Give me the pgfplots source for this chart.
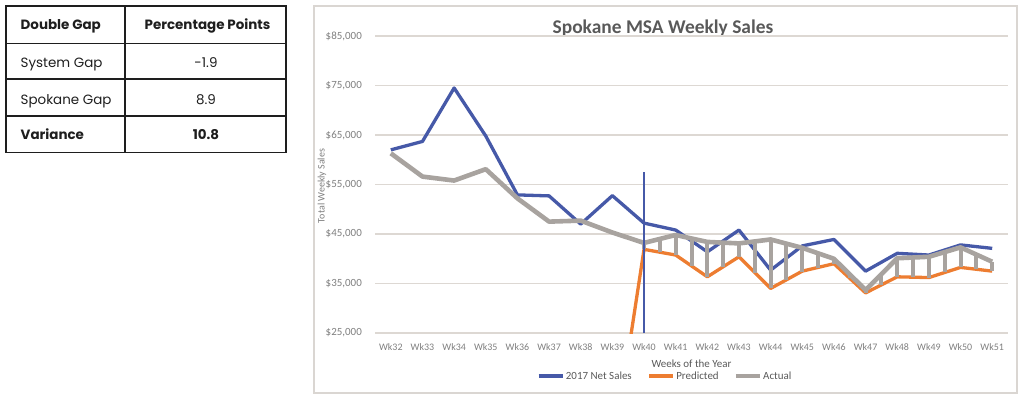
\documentclass[border=0pt]{standalone}
\usepackage{pgfplots}
\pgfplotsset{compat=1.18}
\usepackage{pgfplotstable}
\usepackage{fontspec}
\setmainfont{Carlito}
\newfontfamily\tabfont{Poppins}
\definecolor{netblue}{HTML}{4659A8}
\definecolor{predorange}{HTML}{ED7D31}
\definecolor{actgrey}{HTML}{A8A39F}
\definecolor{gridc}{HTML}{DDD8D3}
\definecolor{framec}{HTML}{DAD6D2}
\definecolor{ticktext}{HTML}{7F7F7F}
\definecolor{titletext}{HTML}{595959}
\definecolor{tabtext}{HTML}{1E1E1E}

\pgfplotstableread{
x y
32 62000
33 63700
34 74500
35 64800
36 52900
37 52700
38 47000
39 52750
40 47200
41 45800
42 41400
43 45800
44 37700
45 42600
46 43900
47 37500
48 41100
49 40750
50 42800
51 42100
}\netsales

\pgfplotstableread{
x y
39 0
40 41900
41 40750
42 36350
43 40400
44 34000
45 37500
46 39000
47 33100
48 36350
49 36200
50 38250
51 37500
}\predicted

\pgfplotstableread{
x y
32 61300
33 56600
34 55800
35 58100
36 52200
37 47500
38 47700
39 45300
40 43200
41 44800
42 43400
43 43100
44 43900
45 42200
46 40000
47 33700
48 40100
49 40400
50 42300
51 39400
}\actual

% grey hatch bars between Actual (top) and Predicted (bottom)
\pgfplotstableread{
x y
40 43200
40 41900
40 nan
40.5 44000
40.5 41325
40.5 nan
41 44800
41 40750
41 nan
41.5 44100
41.5 38550
41.5 nan
42 43400
42 36350
42 nan
42.5 43250
42.5 38375
42.5 nan
43 43100
43 40400
43 nan
43.5 43500
43.5 37200
43.5 nan
44 43900
44 34000
44 nan
44.5 43050
44.5 35700
44.5 nan
45 42200
45 37400
45 nan
45.5 41100
45.5 38200
45.5 nan
46 40000
46 39000
46 nan
46.5 36850
46.5 36050
46.5 nan
47 33700
47 33100
47 nan
47.5 36900
47.5 34725
47.5 nan
48 40100
48 36350
48 nan
48.5 40250
48.5 36275
48.5 nan
49 40400
49 36200
49 nan
49.5 41350
49.5 37225
49.5 nan
50 42300
50 38250
50 nan
50.5 40850
50.5 37875
50.5 nan
51 39400
51 37500
}\bars

\begin{document}
\begin{tikzpicture}
\useasboundingbox (0bp,0bp) rectangle (1028bp,-402bp);
\begin{scope}[x=1bp,y=-1bp]
  % table
  \draw[line width=1.6bp, tabtext] (6,6) rectangle (286,152.5);
  \draw[line width=1.6bp, tabtext] (125,6) -- (125,152.5);
  \draw[line width=1.6bp, tabtext] (6,43.3) -- (286,43.3);
  \draw[line width=1.6bp, tabtext] (6,79) -- (286,79);
  \draw[line width=1.6bp, tabtext] (6,115.7) -- (286,115.7);
  \begin{scope}[every node/.style={font=\tabfont\fontsize{13.5}{15}\selectfont, text=tabtext, inner sep=0pt}]
    \node[anchor=base west, font=\tabfont\bfseries\fontsize{13.5}{15}\selectfont] at (20.5,29.3) {Double Gap};
    \node[anchor=base, font=\tabfont\bfseries\fontsize{13.5}{15}\selectfont] at (207.5,29.3) {Percentage Points};
    \node[anchor=base west] at (20.5,67.3) {System Gap};
    \node[anchor=base] at (206,67.3) {-1.9};
    \node[anchor=base west] at (20.5,104) {Spokane Gap};
    \node[anchor=base] at (206,104) {8.9};
    \node[anchor=base west, font=\tabfont\bfseries\fontsize{13.5}{15}\selectfont] at (20.5,139.3) {Variance};
    \node[anchor=base, font=\tabfont\bfseries\fontsize{13.5}{15}\selectfont] at (206,139.3) {10.8};
  \end{scope}
  % chart frame
  \draw[framec, line width=1.2bp] (314,6) rectangle (1017,393);
  \node[font=\fontsize{19.5}{22}\selectfont\bfseries, text=titletext, anchor=base] at (663,33.3) {Spokane MSA Weekly Sales};
  \node[rotate=90, font=\fontsize{10}{12}\selectfont, text=ticktext] at (322,186) {Total Weekly Sales};
  \node[font=\fontsize{11}{12}\selectfont, text=titletext] at (691.5,364) {Weeks of the Year};
\end{scope}
\begin{axis}[
  at={(375bp,-333bp)}, anchor=south west,
  width=633bp, height=297bp, scale only axis,
  xmin=31.5, xmax=51.5, ymin=25000, ymax=85000,
  xtick={32,...,51},
  xticklabels={Wk32,Wk33,Wk34,Wk35,Wk36,Wk37,Wk38,Wk39,Wk40,Wk41,Wk42,Wk43,Wk44,Wk45,Wk46,Wk47,Wk48,Wk49,Wk50,Wk51},
  ytick={25000,35000,45000,55000,65000,75000,85000},
  yticklabels={{\$25,000},{\$35,000},{\$45,000},{\$55,000},{\$65,000},{\$75,000},{\$85,000}},
  scaled y ticks=false,
  ymajorgrids, grid style={gridc, line width=1.3bp},
  axis line style={draw=none}, major tick length=0pt, tick style={draw=none},
  /pgf/number format/assume math mode=true,
  xticklabel style={font=\fontsize{10}{11}\selectfont, text=ticktext, anchor=north, inner sep=0pt, yshift=-10.5bp},
  yticklabel style={font=\fontsize{11}{12}\selectfont, text=ticktext, anchor=east, inner sep=0pt, xshift=-13bp},
  unbounded coords=jump,
  legend style={at={(rel axis cs:0.458,-0.145)}, anchor=center, draw=none, fill=none,
    font=\fontsize{11}{12}\selectfont, text=titletext, inner sep=0pt,
    /tikz/every even column/.append style={column sep=14bp},
    nodes={inner sep=1.5bp}},
  legend columns=3,
  legend image code/.code={\draw[#1, line width=3.5bp] (0bp,0bp) -- (24bp,0bp);},
]
\addplot[netblue, line width=3.3bp, line join=round] table[x=x, y=y] {\netsales};
\addlegendentry{2017 Net Sales}
\addplot[predorange, line width=3.3bp, line join=round] table[x=x, y=y] {\predicted};
\addlegendentry{Predicted}
\addplot[actgrey, line width=4bp, forget plot] table[x=x, y=y] {\bars};
\addplot[actgrey, line width=4.6bp, line join=round] table[x=x, y=y] {\actual};
\addlegendentry{Actual}
\addplot[netblue, line width=2bp, forget plot] coordinates {(40,25000) (40,57600)};
\end{axis}
\end{tikzpicture}
\end{document}
